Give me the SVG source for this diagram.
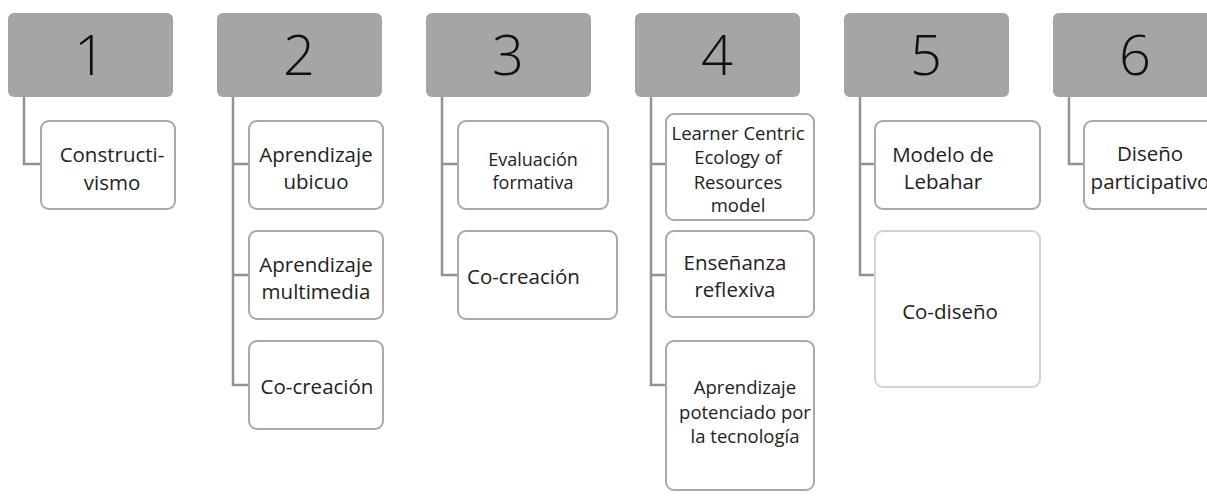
<svg xmlns="http://www.w3.org/2000/svg" width="1207" height="496" viewBox="0 0 1207 496">
<style>
.hdr{fill:#a5a5a5;stroke:none}
.num{font-family:"Open Sans","Liberation Sans",sans-serif;font-weight:300;font-size:56px;fill:#111;text-anchor:middle}
.box{fill:#fff;stroke:#a9a9a9;stroke-width:2}
.box2{fill:#fff;stroke:#d3d3d3;stroke-width:2}
.t{font-family:"Open Sans","Liberation Sans",sans-serif;font-size:20.5px;fill:#222;text-anchor:middle}
.s{font-size:18px}
.m{font-size:18.5px}
.l{text-anchor:start}
.con{fill:none;stroke:#929292;stroke-width:2.5}
</style>
<rect width="1207" height="496" fill="#fff"/>
<g id="connectors">
<path class="con" d="M24 97V164H41"/>
<path class="con" d="M233 97V385H249M233 164H249M233 275H249"/>
<path class="con" d="M442 97V275H458M442 164H458"/>
<path class="con" d="M651 97V385H666M651 164H666M651 275H666"/>
<path class="con" d="M860 97V275H875M860 164H875"/>
<path class="con" d="M1069 97V164H1084"/>
</g>
<g id="h1"><rect class="hdr" x="8" y="13" width="165" height="84" rx="6"/><text class="num" x="90" y="75">1</text></g>
<g id="h2"><rect class="hdr" x="217" y="13" width="165" height="84" rx="6"/><text class="num" x="299" y="75">2</text></g>
<g id="h3"><rect class="hdr" x="426" y="13" width="165" height="84" rx="6"/><text class="num" x="508" y="75">3</text></g>
<g id="h4"><rect class="hdr" x="635" y="13" width="165" height="84" rx="6"/><text class="num" x="717" y="75">4</text></g>
<g id="h5"><rect class="hdr" x="844" y="13" width="165" height="84" rx="6"/><text class="num" x="926" y="75">5</text></g>
<g id="h6"><rect class="hdr" x="1053" y="13" width="165" height="84" rx="6"/><text class="num" x="1135" y="75">6</text></g>
<g id="c1"><rect class="box" x="41" y="121" width="134" height="88" rx="8"/><text class="t" x="112" y="162">Constructi-</text><text class="t" x="112" y="190">vismo</text></g>
<g id="c2a"><rect class="box" x="249" y="121" width="134" height="88" rx="8"/><text class="t" x="316" y="162">Aprendizaje</text><text class="t" x="316" y="189">ubicuo</text></g>
<g id="c2b"><rect class="box" x="249" y="231" width="134" height="88" rx="8"/><text class="t" x="316" y="272">Aprendizaje</text><text class="t" x="316" y="299">multimedia</text></g>
<g id="c2c"><rect class="box" x="249" y="341" width="134" height="88" rx="8"/><text class="t" x="317" y="394">Co-creación</text></g>
<g id="c3a"><rect class="box" x="458" y="121" width="150" height="88" rx="8"/><text class="t s" x="533" y="166">Evaluación</text><text class="t s" x="533" y="189">formativa</text></g>
<g id="c3b"><rect class="box" x="458" y="231" width="159" height="88" rx="8"/><text class="t l" x="467" y="284">Co-creación</text></g>
<g id="c4a"><rect class="box" x="666" y="114" width="148" height="106" rx="8"/><text class="t m" x="738" y="140">Learner Centric</text><text class="t m" x="738" y="164">Ecology of</text><text class="t m" x="738" y="189">Resources</text><text class="t m" x="738" y="212">model</text></g>
<g id="c4b"><rect class="box" x="666" y="231" width="148" height="86" rx="8"/><text class="t" x="735" y="270">Enseñanza</text><text class="t" x="735" y="297">reflexiva</text></g>
<g id="c4c"><rect class="box" x="666" y="341" width="148" height="149" rx="8"/><text class="t m" x="745" y="394">Aprendizaje</text><text class="t m" x="745" y="419">potenciado por</text><text class="t m" x="745" y="443">la tecnología</text></g>
<g id="c5a"><rect class="box" x="875" y="121" width="165" height="88" rx="8"/><text class="t" x="943" y="162">Modelo de</text><text class="t" x="943" y="189">Lebahar</text></g>
<g id="c5b"><rect class="box2" x="875" y="231" width="165" height="156" rx="8"/><text class="t" x="950" y="319">Co-diseño</text></g>
<g id="c6"><rect class="box" x="1084" y="121" width="165" height="88" rx="8"/><text class="t" x="1150" y="161">Diseño</text><text class="t" x="1150" y="189">participativo</text></g>
</svg>
